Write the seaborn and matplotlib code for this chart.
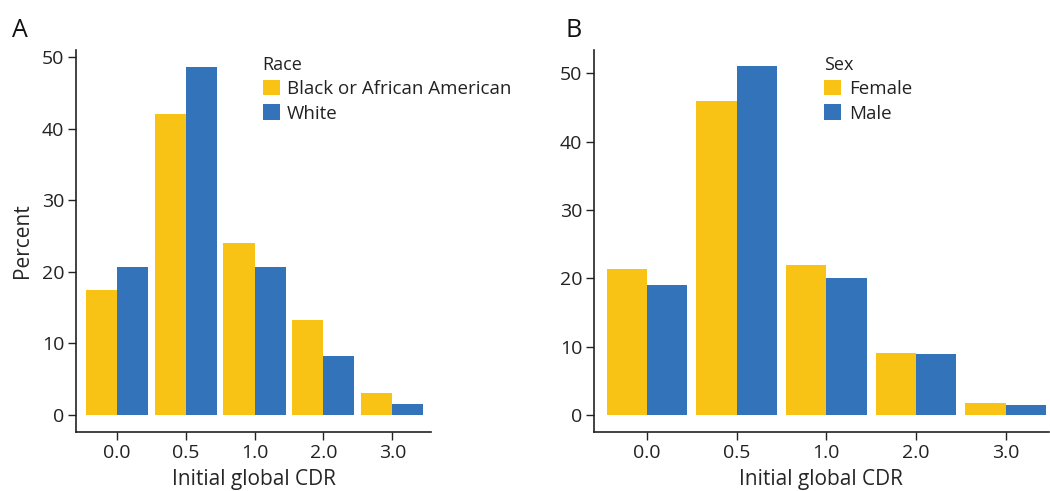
import matplotlib
matplotlib.use("Agg")
import matplotlib.pyplot as plt
import seaborn as sns
import pandas as pd

# ---- data ----
cdr_levels = ["0.0", "0.5", "1.0", "2.0", "3.0"]
race_groups = ["Black or African American", "White"]
race_black = [17.5, 42.1, 24.1, 13.2, 3.0]
race_white = [20.7, 48.6, 20.7, 8.3, 1.5]
sex_groups = ["Female", "Male"]
sex_female = [21.4, 46.0, 22.0, 9.1, 1.8]
sex_male = [19.0, 51.0, 20.0, 8.9, 1.5]
y_ticks_a = [0, 10, 20, 30, 40, 50]
y_ticks_b = [0, 10, 20, 30, 40, 50]

YELLOW = "#F9C316"
BLUE = "#3373B9"

sns.set_theme(style="ticks")
plt.rcParams["font.family"] = ["Open Sans", "DejaVu Sans"]
plt.rcParams["axes.edgecolor"] = "#222222"
plt.rcParams["xtick.color"] = "#222222"
plt.rcParams["ytick.color"] = "#222222"
plt.rcParams["text.color"] = "#222222"

df_a = pd.DataFrame({
    "CDR": cdr_levels * 2,
    "Percent": race_black + race_white,
    "Race": [race_groups[0]] * 5 + [race_groups[1]] * 5,
})
df_b = pd.DataFrame({
    "CDR": cdr_levels * 2,
    "Percent": sex_female + sex_male,
    "Sex": [sex_groups[0]] * 5 + [sex_groups[1]] * 5,
})

fig = plt.figure(figsize=(10.5, 4.91), dpi=100)
ax_a = fig.add_axes([0.0724, 0.12, 0.338, 0.778])
ax_b = fig.add_axes([0.5657, 0.12, 0.433, 0.778])

def draw(ax, df, hue, groups, ylim, yticks, legend_x, ylabel, xmax):
    sns.barplot(data=df, x="CDR", y="Percent", hue=hue, order=cdr_levels,
                hue_order=groups, palette=[YELLOW, BLUE], width=0.9,
                saturation=1, errorbar=None, ax=ax, linewidth=0)
    ax.set_ylim(*ylim)
    ax.set_yticks(yticks)
    ax.set_xlim(-0.59, xmax)
    sns.despine(ax=ax)
    ax.spines["left"].set_linewidth(1.2)
    ax.spines["bottom"].set_linewidth(1.2)
    ax.tick_params(axis="both", labelsize=14, length=6, width=1.0, pad=2.5)
    ax.set_xlabel("Initial global CDR", fontsize=15, labelpad=5)
    ax.set_ylabel(ylabel, fontsize=15, labelpad=6)
    leg = ax.legend(title=hue, loc="upper left", bbox_to_anchor=(legend_x, 1.005),
                    frameon=False, fontsize=13.5, title_fontsize=13,
                    handlelength=0.9, handleheight=0.9, handletextpad=0.4,
                    labelspacing=0.33, borderaxespad=0)
    leg._legend_box.align = "left"

draw(ax_a, df_a, "Race", race_groups, (-2.4, 51.0), y_ticks_a, 0.505, "Percent", 4.56)
draw(ax_b, df_b, "Sex", sex_groups, (-2.5, 53.4), y_ticks_b, 0.49, "", 4.48)

fig.text(0.011, 0.925, "A", fontsize=18, color="#111111")
fig.text(0.539, 0.925, "B", fontsize=18, color="#111111")

fig.savefig("out.png", dpi=100)
